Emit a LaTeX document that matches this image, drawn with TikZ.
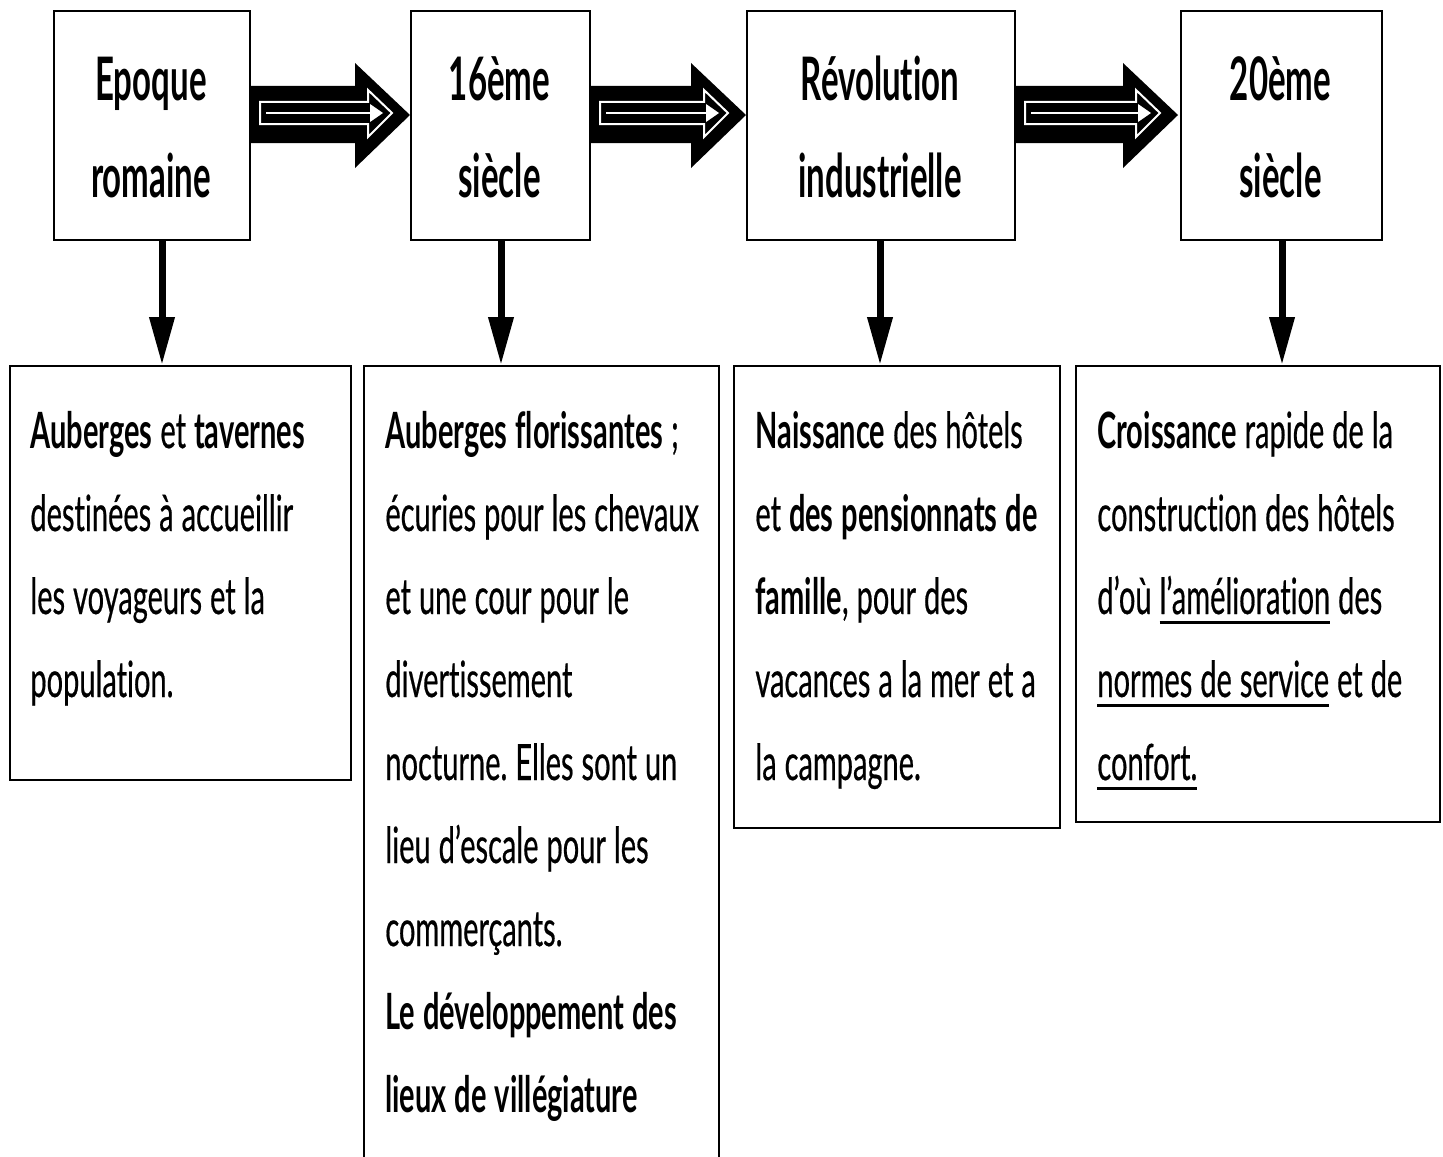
\documentclass[tikz,border=0pt]{standalone}
\usepackage{fontspec}
\setmainfont{Lato}[FakeStretch=0.58,Ligatures=NoCommon,UprightFeatures={FakeBold=0.4}]
\newfontfamily\titlefont{Lato}[FakeStretch=0.55,Ligatures=NoCommon]
\usetikzlibrary{arrows.meta,calc}
\frenchspacing
\newsavebox\ulbox
\newcommand\myul[1]{\leavevmode\sbox\ulbox{#1}\rlap{\rule[-5pt]{\wd\ulbox}{1.5pt}}\usebox\ulbox}
\DeclareRobustCommand\bodyfont{\fontsize{25}{41.5}\selectfont}
\newcommand\myspacing{\spaceskip=4pt plus 1pt minus 1pt\xspaceskip=4pt plus 1pt minus 1pt\relax}
% fat arrow: #1 start x, #2 tip x
\newcommand\fatarrow[2]{%
  \fill[black] (#1,86) -- ({#2-55},86) -- ({#2-55},63) -- (#2,115) -- ({#2-55},168) -- ({#2-55},143) -- (#1,143) -- cycle;
  \draw[white,line width=1pt,line join=miter] ({#1+11},102) -- ({#2-42},102) -- ({#2-42},90) -- ({#2-18},113) -- ({#2-42},137) -- ({#2-42},124) -- ({#1+11},124) -- cycle;
  \draw[white,line width=0.9pt] ({#1+17},113) -- ({#2-38},113);
  \fill[white] ({#2-40},104) -- ({#2-27},113) -- ({#2-40},122) -- cycle;
}
\begin{document}
\begin{tikzpicture}[x=0.5pt,y=-0.5pt,
  box/.style={draw,line width=1pt,anchor=north west,inner sep=0pt},
  title/.style={font=\titlefont\fontsize{30}{48.5}\selectfont\bfseries,align=center,anchor=base,inner sep=0pt,text width=130pt},
  body/.style={font=\bodyfont,align=left,anchor=base west,inner sep=0pt,text width=200pt},
  down/.style={line width=3.5pt,-{Triangle[width=12pt,length=24pt]}},
]
\clip (0,0) rectangle (1443,1156);
\fill[white] (0,0) rectangle (1443,1156);

% top boxes
\node[box,minimum width=98pt,minimum height=114.5pt] (t1) at (53,10) {};
\node[box,minimum width=89.5pt,minimum height=114.5pt] (t2) at (410,10) {};
\node[box,minimum width=134pt,minimum height=114.5pt] (t3) at (746,10) {};
\node[box,minimum width=100.5pt,minimum height=114.5pt] (t4) at (1180,10) {};

\node[title] (t1txt) at (151,100) {Epoque\\romaine};
\node[title] (t2txt) at (499.5,100) {16ème\\siècle};
\node[title] (t3txt) at (880,100) {Révolution\\industrielle};
\node[title] (t4txt) at (1280.5,100) {20ème\\siècle};

% bottom boxes
\node[box,minimum width=170.5pt,minimum height=207pt] (b1) at (9,365) {};
\node[box,minimum width=177.5pt,minimum height=400pt] (b2) at (363,365) {};
\node[box,minimum width=163pt,minimum height=231pt] (b3) at (733,365) {};
\node[box,minimum width=182pt,minimum height=228pt] (b4) at (1075,365) {};

% fat arrows
\fatarrow{249}{410}
\fatarrow{589}{746}
\fatarrow{1014}{1178}

% down arrows
\coordinate (d1) at (162,0);
\coordinate (d2) at (501,0);
\coordinate (d3) at (880,0);
\coordinate (d4) at (1282,0);
\draw[down] (t1.south -| d1) -- (b1.north -| d1);
\draw[down] (t2.south -| d2) -- (b2.north -| d2);
\draw[down] (t3.south -| d3) -- (b3.north -| d3);
\draw[down] (t4.south -| d4) -- (b4.north -| d4);

% texts
\node[body] (b1txt) at (30,448) {\myspacing\textbf{Auberges} et \textbf{tavernes}\\destinées à accueillir\\les voyageurs et la\\population.};
\node[body] (b2txt) at (385,448) {\myspacing\textbf{Auberges florissantes} ;\\écuries pour les chevaux\\et une cour pour le\\divertissement\\nocturne. Elles sont un\\lieu d'escale pour les\\commerçants.\\\textbf{Le développement des}\\\textbf{lieux de villégiature}};
\node[body] (b3txt) at (755,448) {\myspacing\textbf{Naissance} des hôtels\\et \textbf{des pensionnats de}\\\textbf{famille}, pour des\\vacances a la mer et a\\la campagne.};
\node[body] (b4txt) at (1097,448) {\myspacing\textbf{Croissance} rapide de la\\construction des hôtels\\d'où \myul{l'amélioration} des\\\myul{normes de service} et de\\\myul{confort.}};
\end{tikzpicture}
\end{document}
